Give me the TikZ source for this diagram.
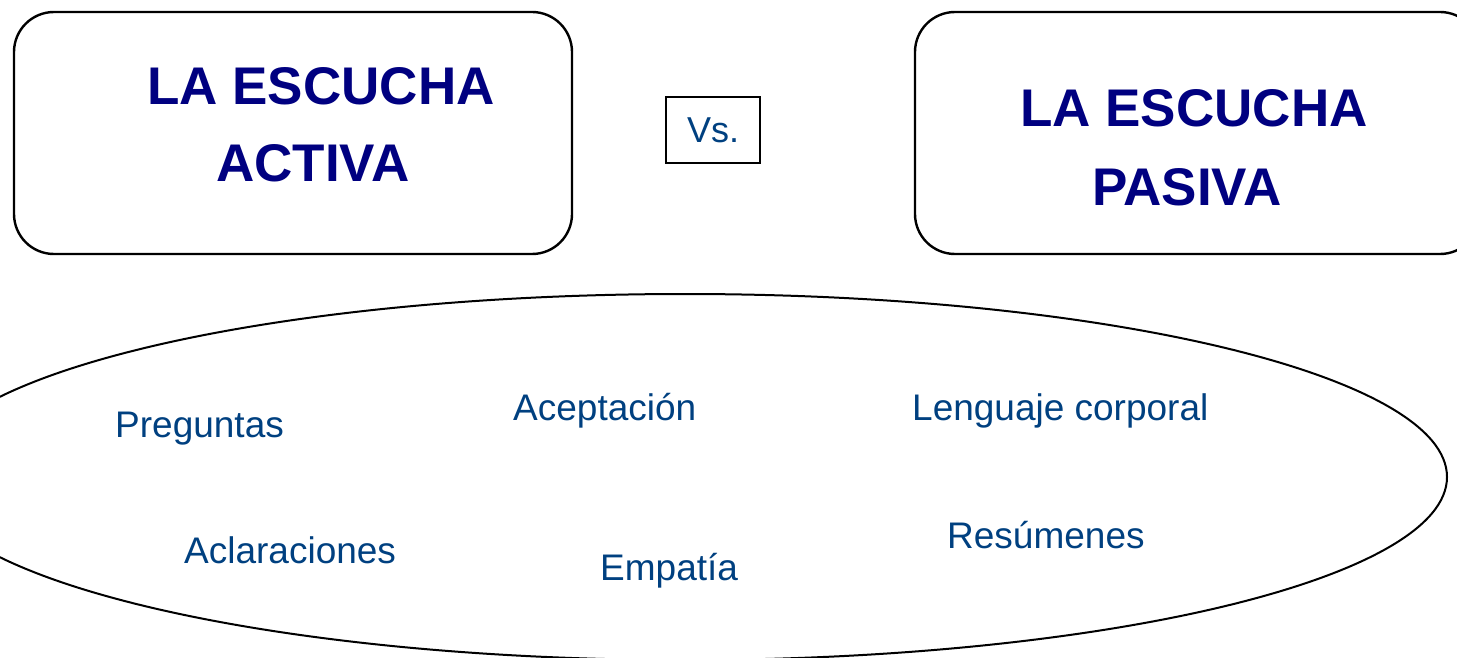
\documentclass[tikz,border=0pt]{standalone}
\usepackage{fontspec}
\setmainfont{Liberation Sans}
\definecolor{titleblue}{RGB}{0,0,128}
\definecolor{labelblue}{RGB}{0,64,128}
\begin{document}
\begin{tikzpicture}[x=1pt,y=-1pt,
  box/.style={draw=black, line width=2.4pt, rounded corners=40pt, inner sep=0pt, minimum height=242pt},
  title/.style={font=\fontsize{53}{60}\selectfont\bfseries, text=titleblue, anchor=base west, inner sep=0pt},
  lbl/.style={font=\fontsize{37}{42}\selectfont, text=labelblue, anchor=base west, inner sep=0pt}]
\useasboundingbox (0,0) rectangle (1457,658);
\clip (0,0) rectangle (1457,658);
% boxes
\node[box, minimum width=558pt] (activebox) at (293,133) {};
\node[box, minimum width=565pt] (pasivebox) at (1197.5,133) {};
\node[draw=black, line width=2.4pt, minimum width=94pt, minimum height=66pt, inner sep=0pt,
      font=\fontsize{36}{40}\selectfont, text=labelblue] (vs) at (713,130) {Vs.};
% titles
\node[title] (t1) at (147,105) {LA ESCUCHA};
\node[title] (t2) at (216,182) {ACTIVA};
\node[title] (t3) at (1020,127) {LA ESCUCHA};
\node[title] (t4) at (1092,205) {PASIVA};
% ellipse
\draw[line width=2pt] (685,477) ellipse [x radius=762, y radius=183];
% labels
\node[lbl] (preg) at (115,437) {Preguntas};
\node[lbl] (acep) at (513,420) {Aceptación};
\node[lbl] (leng) at (912,420) {Lenguaje corporal};
\node[lbl] (acla) at (184,563) {Aclaraciones};
\node[lbl] (empa) at (600,580) {Empatía};
\node[lbl] (resu) at (947,548) {Resúmenes};
\end{tikzpicture}
\end{document}
